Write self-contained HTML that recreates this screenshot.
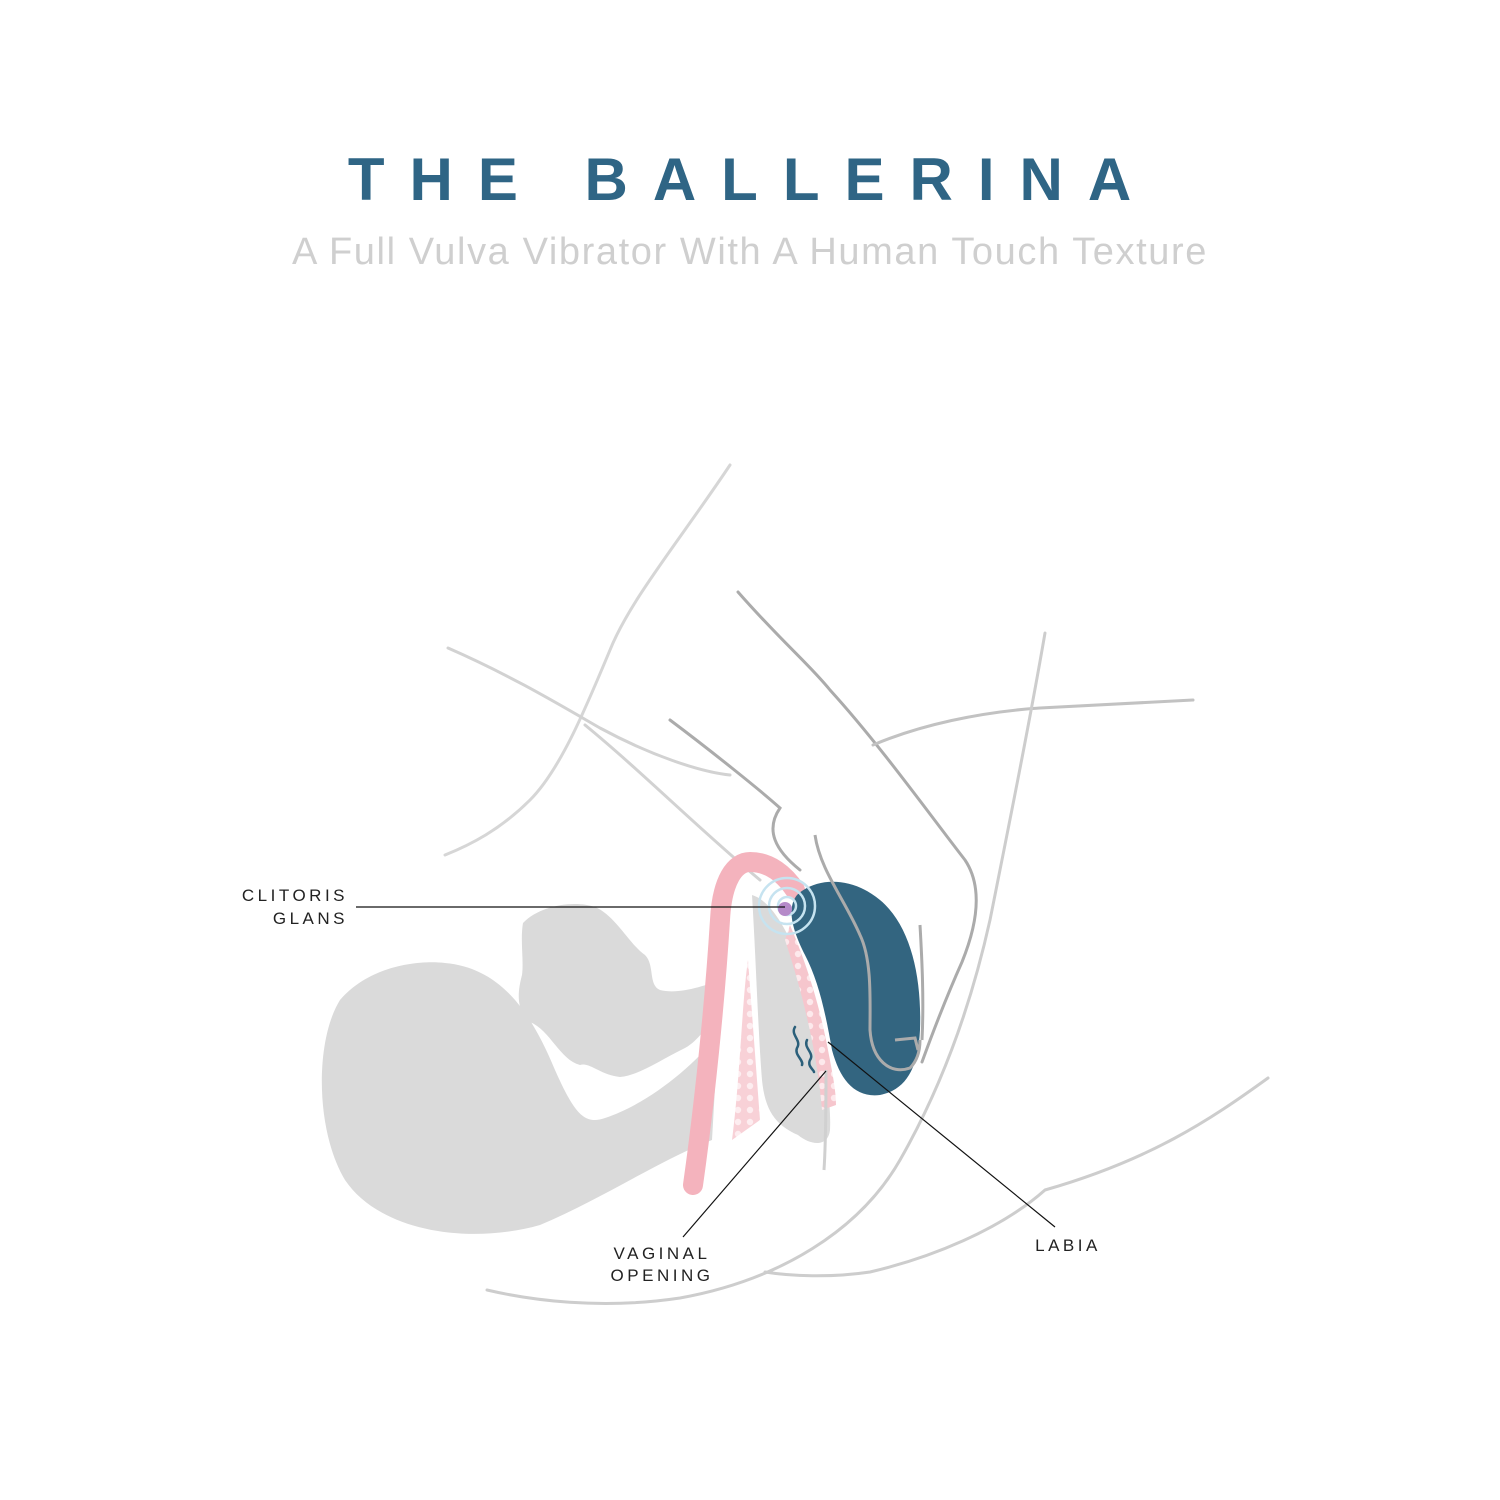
<!DOCTYPE html>
<html><head><meta charset="utf-8"><style>
html,body{margin:0;padding:0;background:#fff;}
svg{display:block}
</style></head><body>
<svg width="1500" height="1500" viewBox="0 0 1500 1500" xmlns="http://www.w3.org/2000/svg">
<defs>
<pattern id="dots" width="12" height="12" patternUnits="userSpaceOnUse">
<rect width="12" height="12" fill="#f6c6cd"/>
<circle cx="6" cy="6" r="3.2" fill="#fde9ec"/>
</pattern>
</defs>
<text x="752" y="200" text-anchor="middle" font-family="Liberation Sans, sans-serif" font-weight="bold" font-size="60" letter-spacing="25" fill="#2f6585">THE BALLERINA</text>
<text x="750" y="264" text-anchor="middle" font-family="Liberation Sans, sans-serif" font-size="38" letter-spacing="1.6" fill="#cfcfcf">A Full Vulva Vibrator With A Human Touch Texture</text>

<path d="M340,1000 C370,965 420,960 445,963 C500,968 530,1010 555,1070 C575,1115 585,1125 605,1118 C645,1105 690,1070 718,1035 L712,1140 C660,1160 600,1200 540,1225 C470,1245 380,1232 345,1180 C315,1130 315,1040 340,1000 Z" fill="#dadada"/>
<path d="M523,923 C540,905 575,900 595,907 C615,915 630,945 645,955 C655,965 648,985 660,990 C680,995 705,985 722,980 L722,1015 C705,1025 700,1040 685,1048 C660,1060 640,1075 620,1077 C600,1075 590,1062 580,1065 C560,1060 550,1030 530,1022 C515,1010 518,990 522,975 C524,960 520,940 523,923 Z" fill="#dadada"/>
<path d="M752,895 C770,900 790,930 805,980 C818,1030 832,1090 830,1130 C828,1148 810,1145 798,1135 C775,1125 765,1110 762,1080 C758,1030 756,960 752,895 Z" fill="#dadada"/>

<g fill="none" stroke-linecap="round">
<path d="M730,465 C680,540 630,600 610,650 C585,710 560,770 530,800 C500,830 470,845 445,855" stroke="#d6d6d6" stroke-width="3"/>
<path d="M448,648 C510,675 560,705 600,728 C650,755 700,772 730,775" stroke="#d2d2d2" stroke-width="3"/>
<path d="M585,725 C640,770 700,830 760,880" stroke="#d2d2d2" stroke-width="3"/>
<path d="M670,720 C710,750 760,790 780,808 C765,830 775,850 800,870" stroke="#ababab" stroke-width="3"/>
<path d="M738,592 C780,640 810,665 830,690 C880,745 930,815 965,860 C985,890 975,930 962,962 C945,1000 930,1040 922,1062" stroke="#ababab" stroke-width="3"/>
<path d="M873,745 C920,725 980,712 1040,708 C1100,705 1160,702 1193,700" stroke="#c2c2c2" stroke-width="3"/>
<path d="M1045,633 C1030,720 1010,820 990,920 C970,1010 940,1090 900,1160 C860,1230 780,1280 680,1298 C600,1310 530,1300 487,1290" stroke="#cdcdcd" stroke-width="3"/>
<path d="M1268,1078 C1210,1120 1150,1160 1045,1190 C1000,1230 930,1258 870,1272 C830,1278 790,1276 765,1272" stroke="#cdcdcd" stroke-width="3"/>
</g>

<path d="M693,1185 C705,1100 715,1000 720,920 C722,880 735,862 750,862 C770,862 785,875 795,890" fill="none" stroke="#f4b3bd" stroke-width="20" stroke-linecap="round"/>
<path d="M732,1140 C740,1080 742,1000 748,960 L760,1120 Z" fill="url(#dots)" opacity="0.8"/>
<path d="M790,925 C805,960 818,1000 826,1040 C832,1070 836,1090 836,1105 L822,1110 C818,1060 805,1000 785,940 Z" fill="url(#dots)"/>

<path d="M797,895 C815,878 850,875 880,900 C910,925 922,975 920,1030 C918,1070 905,1090 880,1095 C855,1098 840,1080 832,1050 C825,1010 818,980 805,955 C795,935 785,910 797,895 Z" fill="#336580"/>
<g fill="none" stroke="#c6e3f0" stroke-width="2.5">
<circle cx="787" cy="906" r="9"/><circle cx="787" cy="906" r="18"/><circle cx="787" cy="906" r="28"/>
</g>
<circle cx="785" cy="909" r="7" fill="#b58ac9"/>
<path d="M815,835 C820,870 845,900 860,935 C872,960 870,1000 870,1030 C872,1060 890,1075 910,1068 C918,1060 920,1050 920,1040 M895,1040 L915,1038 L918,1050" fill="none" stroke="#ababab" stroke-width="3"/>
<path d="M920,925 C922,960 924,1000 922,1040" fill="none" stroke="#ababab" stroke-width="3"/>
<path d="M826,1070 C826,1100 826,1140 824,1170" fill="none" stroke="#d0d0d0" stroke-width="3"/>
<g fill="none" stroke="#2b5f7a" stroke-width="2.5" stroke-linecap="round">
<path d="M795,1027 C790,1035 802,1040 797,1048 C794,1055 804,1060 802,1065"/>
<path d="M807,1040 C803,1048 815,1053 810,1060 C807,1066 814,1070 814,1072"/>
</g>

<g stroke="#111" stroke-width="1.2">
<line x1="356" y1="907" x2="785" y2="907"/>
<line x1="683" y1="1237" x2="826" y2="1071"/>
<line x1="828" y1="1042" x2="1055" y2="1227"/>
</g>
<g font-family="Liberation Sans, sans-serif" font-size="17" letter-spacing="3.5" fill="#222">
<text x="348" y="901" text-anchor="end">CLITORIS</text>
<text x="348" y="924" text-anchor="end">GLANS</text>
<text x="662" y="1259" text-anchor="middle">VAGINAL</text>
<text x="662" y="1281" text-anchor="middle">OPENING</text>
<text x="1068" y="1251" text-anchor="middle">LABIA</text>
</g>
</svg>
</body></html>
